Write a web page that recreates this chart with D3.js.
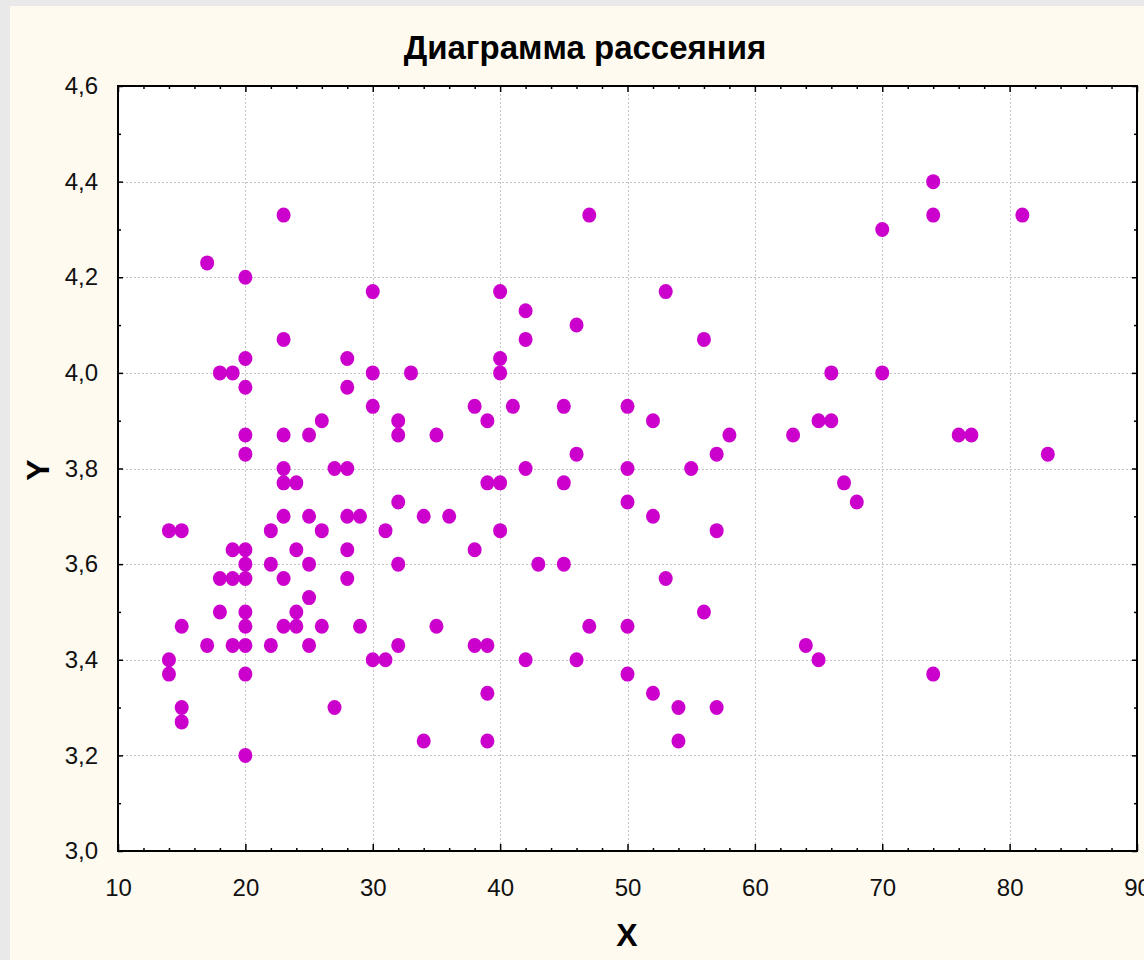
<!DOCTYPE html>
<html>
<head>
<meta charset="utf-8">
<script src="https://cdn.jsdelivr.net/npm/d3@7/dist/d3.min.js"></script>
<style>
  html, body { margin: 0; padding: 0; background: #e9e9e9; }
  svg { display: block; }
  text { font-family: "Liberation Sans", Arial, sans-serif; }
</style>
</head>
<body>
<svg id="chart" width="1144" height="960"></svg>
<script>
// ---- data ----
const title = "Диаграмма рассеяния";
const xLabel = "X";
const yLabel = "Y";

const xValues = [
  14,14,14,
  15,15,15,15,
  17,17,
  18,18,18,
  19,19,19,19,
  20,20,20,20,20,20,20,20,20,20,20,20,20,
  22,22,22,
  23,23,23,23,23,23,23,23,
  24,24,24,24,
  25,25,25,25,25,
  26,26,26,
  27,27,
  28,28,28,28,28,28,
  29,29,
  30,30,30,30,
  31,31,
  32,32,32,32,32,
  33,
  34,34,
  35,35,
  36,
  38,38,38,
  39,39,39,39,39,
  40,40,40,40,40,
  41,
  42,42,42,42,
  43,
  45,45,45,
  46,46,46,
  47,47,
  50,50,50,50,50,
  52,52,52,
  53,53,
  54,54,
  55,
  56,56,
  57,57,57,
  58,
  63,
  64,
  65,65,
  66,66,
  67,
  68,
  70,70,
  74,74,74,
  76,
  77,
  81,
  83
];
const yValues = [
  3.67,3.40,3.37,
  3.67,3.47,3.30,3.27,
  4.23,3.43,
  4.00,3.57,3.50,
  4.00,3.63,3.57,3.43,
  4.20,4.03,3.97,3.87,3.83,3.63,3.60,3.57,3.50,3.47,3.43,3.37,3.20,
  3.67,3.60,3.43,
  4.33,4.07,3.87,3.80,3.77,3.70,3.57,3.47,
  3.77,3.63,3.50,3.47,
  3.87,3.70,3.60,3.53,3.43,
  3.90,3.67,3.47,
  3.80,3.30,
  4.03,3.97,3.80,3.70,3.63,3.57,
  3.70,3.47,
  4.17,4.00,3.93,3.40,
  3.67,3.40,
  3.90,3.87,3.73,3.60,3.43,
  4.00,
  3.70,3.23,
  3.87,3.47,
  3.70,
  3.93,3.63,3.43,
  3.90,3.77,3.43,3.33,3.23,
  4.17,4.03,4.00,3.77,3.67,
  3.93,
  4.13,4.07,3.80,3.40,
  3.60,
  3.93,3.77,3.60,
  4.10,3.83,3.40,
  4.33,3.47,
  3.93,3.80,3.73,3.47,3.37,
  3.90,3.70,3.33,
  4.17,3.57,
  3.30,3.23,
  3.80,
  4.07,3.50,
  3.83,3.67,3.30,
  3.87,
  3.87,
  3.43,
  3.90,3.40,
  4.00,3.90,
  3.77,
  3.73,
  4.30,4.00,
  4.40,4.33,3.37,
  3.87,
  3.87,
  4.33,
  3.83
];
const xMajorTicks = [10,20,30,40,50,60,70,80,90];
const xMinorTicks = [12,14,16,18,22,24,26,28,32,34,36,38,42,44,46,48,52,54,56,58,62,64,66,68,72,74,76,78,82,84,86,88];
const yMajorTicks = [3.0,3.2,3.4,3.6,3.8,4.0,4.2,4.4,4.6];
const yMinorTicks = [3.1,3.3,3.5,3.7,3.9,4.1,4.3,4.5];

// ---- layout ----
const W = 1144, H = 960;
const plot = { left: 118, right: 1137, top: 86, bottom: 851 };

const svg = d3.select("#chart");
svg.append("rect").attr("x", 0).attr("y", 0).attr("width", W).attr("height", H).attr("fill", "#e9e9e9");
svg.append("rect").attr("x", 10).attr("y", 6).attr("width", W - 10).attr("height", H - 6).attr("fill", "#fffaf0");

const x = d3.scaleLinear().domain([10, 90]).range([plot.left, plot.right]);
const y = d3.scaleLinear().domain([3.0, 4.6]).range([plot.bottom, plot.top]);

// plot background
svg.append("rect")
  .attr("x", plot.left).attr("y", plot.top)
  .attr("width", plot.right - plot.left).attr("height", plot.bottom - plot.top)
  .attr("fill", "#ffffff");

// grid
const grid = svg.append("g").attr("stroke", "#c4c4c4").attr("stroke-width", 1).attr("stroke-dasharray", "2,2");
grid.selectAll("line.gx").data(xMajorTicks.slice(1, -1)).join("line")
  .attr("x1", d => Math.round(x(d)) + 0.5).attr("x2", d => Math.round(x(d)) + 0.5)
  .attr("y1", plot.top).attr("y2", plot.bottom);
grid.selectAll("line.gy").data(yMajorTicks.slice(1, -1)).join("line")
  .attr("y1", d => Math.round(y(d)) + 0.5).attr("y2", d => Math.round(y(d)) + 0.5)
  .attr("x1", plot.left).attr("x2", plot.right);

// axes (ticks inward on all four sides)
const fmt = d => d3.format(".1f")(d).replace(".", ",");
function styleAxis(g) {
  g.select(".domain").remove();
  g.selectAll(".tick line").attr("stroke", "#000").attr("stroke-width", 1.5);
}
function axisPair(axisFn, scale, translate, majorLen, minorLen, labels) {
  const gMinor = svg.append("g").attr("transform", translate)
    .call(axisFn(scale).tickValues(labels.minor).tickSize(minorLen).tickFormat(""));
  styleAxis(gMinor);
  const gMajor = svg.append("g").attr("transform", translate)
    .call(axisFn(scale).tickValues(labels.major).tickSize(majorLen).tickPadding(labels.pad || 3)
      .tickFormat(labels.fmt || ""));
  styleAxis(gMajor);
  return gMajor;
}

const gBottom = axisPair(d3.axisBottom, x, `translate(0,${plot.bottom})`, -7, -3,
  { major: xMajorTicks, minor: xMinorTicks, fmt: d => String(d), pad: 28 });
const gTop = axisPair(d3.axisTop, x, `translate(0,${plot.top})`, -6, -3,
  { major: xMajorTicks, minor: xMinorTicks });
const gLeft = axisPair(d3.axisLeft, y, `translate(${plot.left},0)`, -5, -3,
  { major: yMajorTicks, minor: yMinorTicks, fmt: fmt, pad: 20 });
const gRight = axisPair(d3.axisRight, y, `translate(${plot.right},0)`, -5, -3,
  { major: yMajorTicks, minor: yMinorTicks });

[gBottom, gLeft].forEach(g => g.selectAll(".tick text")
  .attr("font-family", "'Liberation Sans', Arial, sans-serif")
  .attr("font-size", 24).attr("fill", "#111"));

// frame
svg.append("rect")
  .attr("x", plot.left).attr("y", plot.top)
  .attr("width", plot.right - plot.left).attr("height", plot.bottom - plot.top)
  .attr("fill", "none").attr("stroke", "#000").attr("stroke-width", 2);

// points
const points = xValues.map((v, i) => ({ x: v, y: yValues[i] }));
svg.append("g").selectAll("ellipse").data(points).join("ellipse")
  .attr("cx", d => x(d.x)).attr("cy", d => y(d.y))
  .attr("rx", 7).attr("ry", 7.5)
  .attr("fill", "#cc00cc");

// title and axis labels
svg.append("text").attr("x", 585).attr("y", 59).attr("text-anchor", "middle")
  .attr("font-size", 33).attr("font-weight", "bold").attr("fill", "#000").text(title);
svg.append("text").attr("x", 627).attr("y", 946).attr("text-anchor", "middle")
  .attr("font-size", 32).attr("font-weight", "bold").attr("fill", "#000").text(xLabel);
svg.append("text").attr("transform", "translate(49,470) rotate(-90)").attr("text-anchor", "middle")
  .attr("font-size", 32).attr("font-weight", "bold").attr("fill", "#000").text(yLabel);
</script>
</body>
</html>
